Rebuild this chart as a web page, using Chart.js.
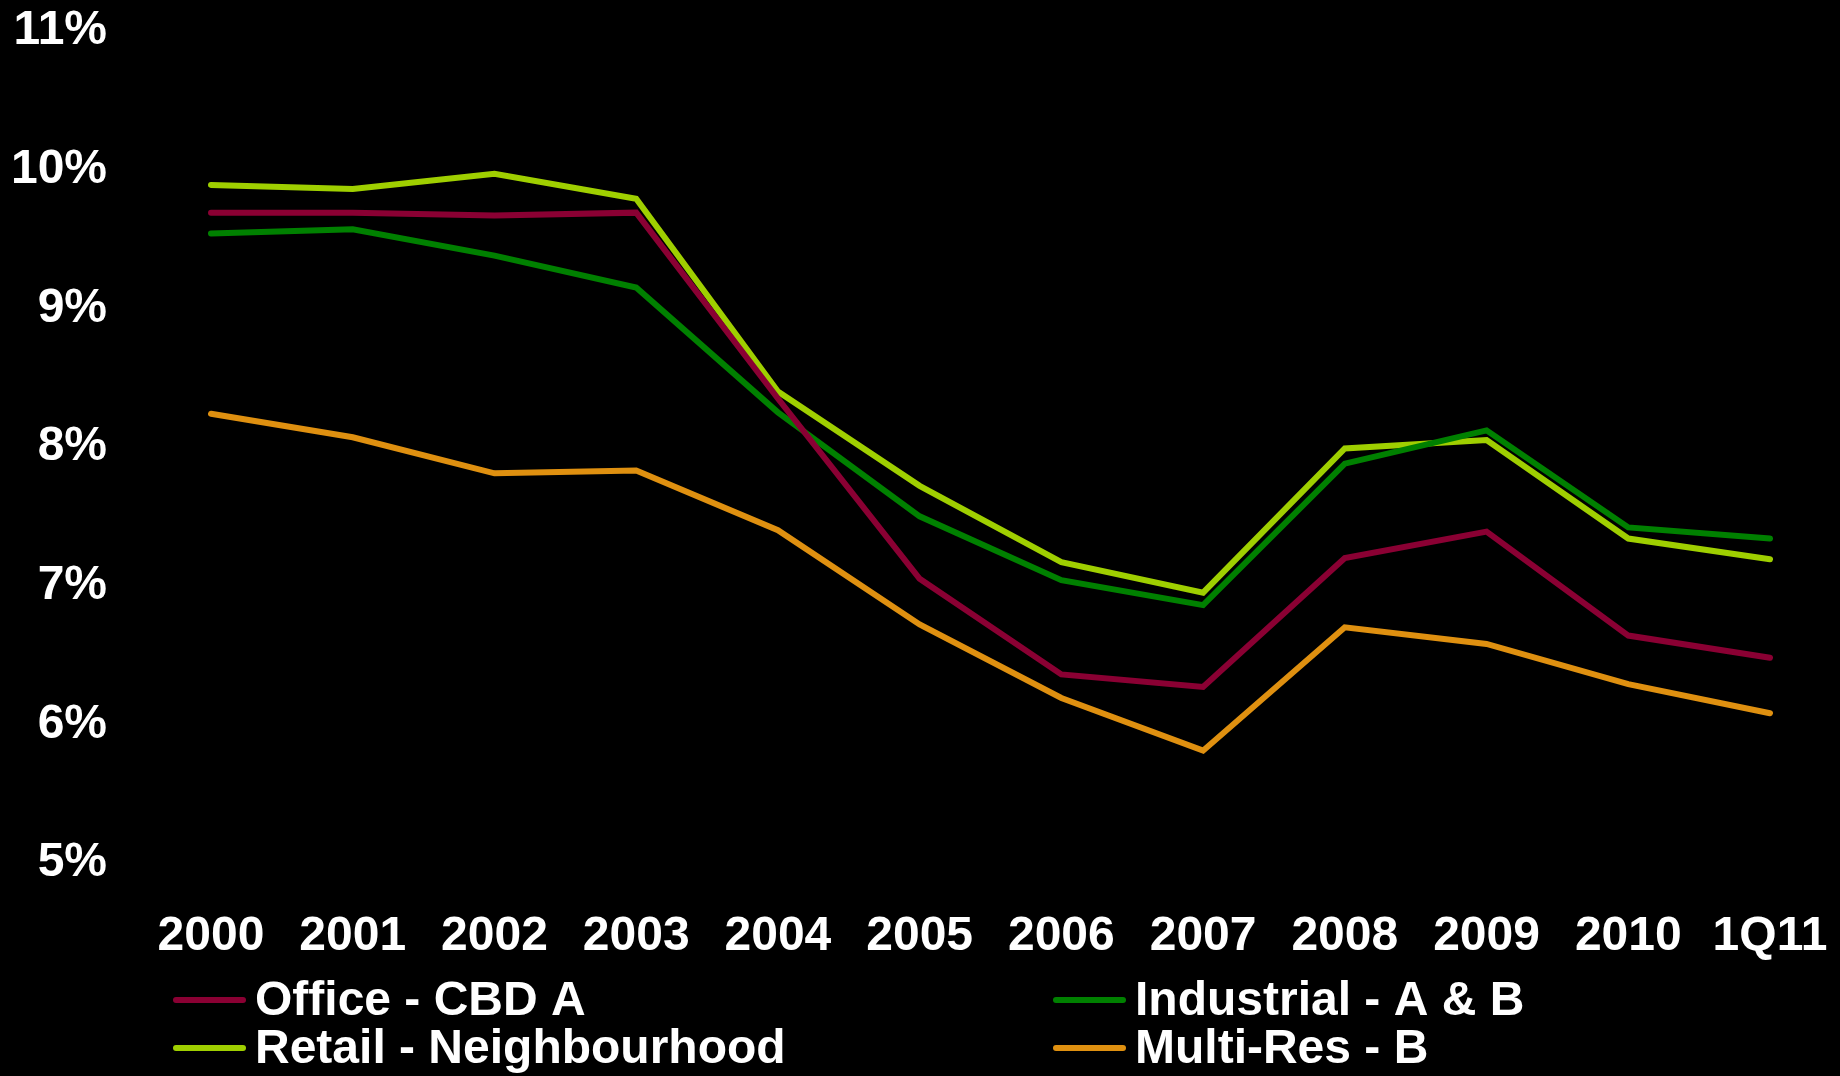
<!DOCTYPE html>
<html>
<head>
<meta charset="utf-8">
<script src="https://cdn.jsdelivr.net/npm/chart.js@4"></script>
<style>
    html, body { margin: 0; padding: 0; background: #000; }
    canvas { display: block; }
</style>
</head>
<body>
<canvas id="myChart" width="1840" height="1076"></canvas>
<script>
// categorias e séries (cap rates, %)
const anos = ['2000', '2001', '2002', '2003', '2004', '2005', '2006', '2007', '2008', '2009', '2010', '1Q11'];
const office = [9.69, 9.69, 9.67, 9.69, 8.35, 7.05, 6.36, 6.27, 7.20, 7.39, 6.64, 6.48];
const industrial = [9.54, 9.57, 9.38, 9.15, 8.25, 7.50, 7.04, 6.86, 7.88, 8.12, 7.42, 7.34];
const retail = [9.89, 9.86, 9.97, 9.79, 8.40, 7.72, 7.17, 6.95, 7.99, 8.05, 7.34, 7.19];
const multiRes = [8.24, 8.07, 7.81, 7.83, 7.40, 6.72, 6.19, 5.81, 6.70, 6.58, 6.29, 6.08];
const ticksY = [5, 6, 7, 8, 9, 10, 11];

const fonte = '"Liberation Sans", Arial, sans-serif';

// legenda em duas colunas, desenhada no canvas
const legendaColunas = {
    id: 'legendaColunas',
    afterDraw(chart) {
        const ctx = chart.ctx;
        const posicoes = [[176, 1000], [1056, 1000], [176, 1048], [1056, 1048]];
        ctx.save();
        ctx.font = 'bold 48px ' + fonte;
        ctx.textBaseline = 'middle';
        ctx.textAlign = 'left';
        chart.data.datasets.forEach((ds, i) => {
            const [x, y] = posicoes[i];
            ctx.strokeStyle = ds.borderColor;
            ctx.lineWidth = 6;
            ctx.lineCap = 'round';
            ctx.beginPath();
            ctx.moveTo(x, y);
            ctx.lineTo(x + 67, y);
            ctx.stroke();
            ctx.fillStyle = '#ffffff';
            ctx.fillText(ds.label, x + 79, y + 2);
        });
        ctx.restore();
    }
};

function serie(label, data, cor) {
    return {
        label: label,
        data: data,
        borderColor: cor,
        backgroundColor: cor,
        borderWidth: 6,
        borderCapStyle: 'round',
        pointRadius: 0,
        tension: 0,
        fill: false
    };
}

const ctx = document.getElementById('myChart');
new Chart(ctx, {
    type: 'line',
    data: {
        labels: anos,
        datasets: [
            serie('Office - CBD A', office, '#8a0033'),
            serie('Industrial - A & B', industrial, '#008000'),
            serie('Retail - Neighbourhood', retail, '#9fcf00'),
            serie('Multi-Res - B', multiRes, '#df9010')
        ]
    },
    options: {
        responsive: false,
        animation: false,
        layout: { padding: { top: 31, right: 70, left: 0, bottom: 0 } },
        plugins: {
            legend: { display: false },
            tooltip: { enabled: false }
        },
        scales: {
            x: {
                offset: false,
                // grade oculta; tickLength só dá o espaço até os rótulos
                grid: { display: false, drawTicks: true, tickLength: 50 },
                border: { display: false },
                ticks: {
                    color: '#ffffff',
                    font: { family: fonte, size: 48, weight: 'bold', lineHeight: 1 },
                    padding: 0,
                    maxRotation: 0,
                    autoSkip: false
                },
                afterFit(scale) { scale.height = 1076 - 863; }
            },
            y: {
                min: 5,
                max: 11,
                afterBuildTicks(scale) { scale.ticks = ticksY.map(v => ({ value: v })); },
                grid: { display: false, drawTicks: true, tickLength: 104 },
                border: { display: false },
                ticks: {
                    color: '#ffffff',
                    font: { family: fonte, size: 48, weight: 'bold', lineHeight: 1 },
                    padding: 0,
                    callback: v => v + '%'
                },
                afterFit(scale) { scale.width = 211; }
            }
        }
    },
    plugins: [legendaColunas, {
        id: 'fundo',
        beforeDraw(chart) {
            chart.ctx.save();
            chart.ctx.fillStyle = '#000000';
            chart.ctx.fillRect(0, 0, chart.width, chart.height);
            chart.ctx.restore();
        }
    }]
});
</script>
</body>
</html>
